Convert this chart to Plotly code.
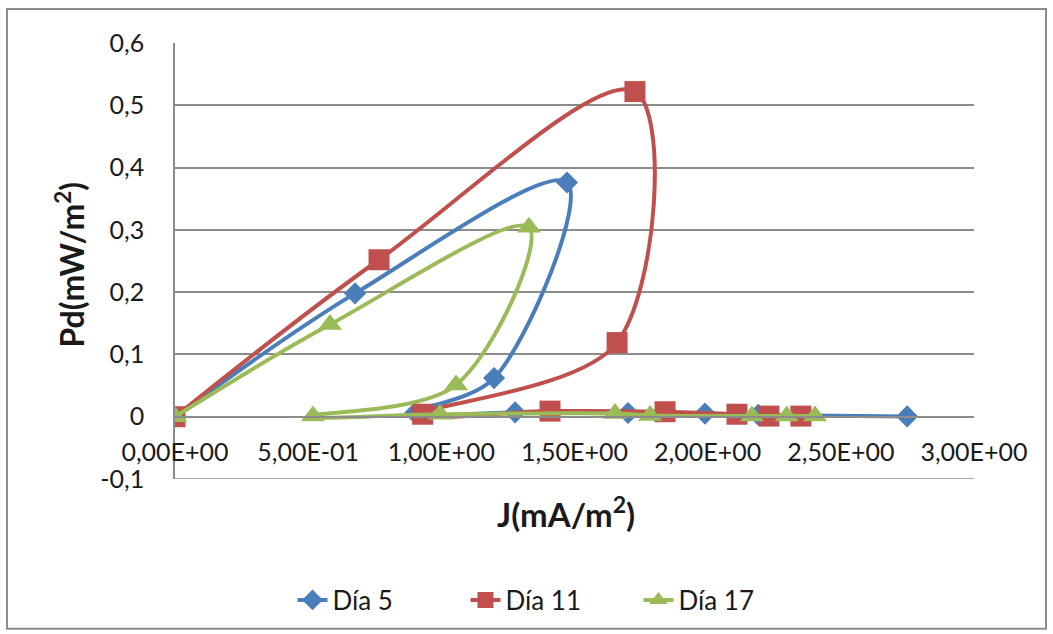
import plotly.graph_objects as go

# Current density J (mA/m²) and power density Pd (mW/m²) per sampling day
j_dia5 = [0.0, 0.676, 1.472, 1.198, 0.901, 1.277, 1.701, 1.990, 2.190, 2.749]
pd_dia5 = [0.0, 0.198, 0.376, 0.062, 0.006, 0.007, 0.006, 0.005, 0.003, 0.0005]

j_dia11 = [0.0, 0.766, 1.727, 1.660, 0.930, 1.408, 1.840, 2.110, 2.230, 2.350]
pd_dia11 = [0.0, 0.252, 0.522, 0.119, 0.004, 0.009, 0.008, 0.004, 0.001, 0.001]

j_dia17 = [0.0, 0.582, 1.329, 1.055, 0.518, 0.995, 1.652, 1.784, 2.166, 2.297, 2.403]
pd_dia17 = [0.0, 0.148, 0.304, 0.051, 0.001, 0.004, 0.005, 0.002, 0.001, 0.001, 0.001]

series_names = ["Día 5", "Día 11", "Día 17"]

x_tick_vals = [0.0, 0.5, 1.0, 1.5, 2.0, 2.5, 3.0]
x_tick_text = ["0,00E+00", "5,00E-01", "1,00E+00", "1,50E+00",
               "2,00E+00", "2,50E+00", "3,00E+00"]
y_tick_vals = [-0.1, 0.0, 0.1, 0.2, 0.3, 0.4, 0.5, 0.6]
y_tick_text = ["-0,1", "0", "0,1", "0,2", "0,3", "0,4", "0,5", "0,6"]

FONT = "Lato, 'Open Sans', sans-serif"
GRID = "#8c8c8c"
TEXT = "#1a1a1a"

# Plot-area geometry in pixels
W, H = 1053, 634
L, R, T, B = 175, 79, 43, 154
PW, PH = W - L - R, H - T - B


def px_x(p):
    return (p - L) / PW


def px_y(p):
    return (H - B - p) / PH


styles = [
    dict(color="#4A7EBB", symbol="diamond", size=17),
    dict(color="#C0504D", symbol="square", size=21),
    dict(color="#9BBB59", symbol="triangle-up", size=21),
]

fig = go.Figure()
for name, xs, ys, st in zip(series_names,
                            [j_dia5, j_dia11, j_dia17],
                            [pd_dia5, pd_dia11, pd_dia17],
                            styles):
    fig.add_trace(go.Scatter(
        x=xs, y=ys, name=name, mode="lines+markers",
        line=dict(color=st["color"], width=4, shape="spline", smoothing=1.0),
        marker=dict(color=st["color"], symbol=st["symbol"], size=st["size"],
                    line=dict(width=0)),
    ))

y_zero_frac = (0 - (-0.1)) / 0.7

fig.update_layout(
    width=W, height=H,
    margin=dict(l=L, r=R, t=T, b=B),
    paper_bgcolor="white", plot_bgcolor="white",
    font=dict(family=FONT, size=25, color=TEXT),
    showlegend=True,
    legend=dict(orientation="h", x=px_x(552), y=px_y(600),
                xanchor="center", yanchor="middle",
                font=dict(size=26, color=TEXT),
                entrywidth=128, entrywidthmode="pixels",
                bgcolor="rgba(0,0,0,0)"),
    xaxis=dict(
        range=[0, 3], tickvals=x_tick_vals, ticktext=x_tick_text,
        showgrid=False, zeroline=False,
        showline=True, linecolor=GRID, linewidth=1.5,
        anchor="free", position=y_zero_frac,
        ticks="", ticklabelstandoff=14,
        tickfont=dict(size=25),
    ),
    yaxis=dict(
        range=[-0.1, 0.6], tickvals=y_tick_vals, ticktext=y_tick_text,
        showgrid=True, gridcolor=GRID, gridwidth=1.5,
        zeroline=True, zerolinecolor=GRID, zerolinewidth=1.5,
        showline=True, linecolor=GRID, linewidth=1.5,
        ticks="", ticklabelstandoff=24,
        tickfont=dict(size=25),
    ),
    annotations=[
        dict(text="Pd(mW/m<sup>2</sup>)", xref="paper", yref="paper",
             x=px_x(70), y=px_y(265), textangle=-90, showarrow=False,
             xanchor="center", yanchor="middle",
             font=dict(family=FONT, size=32, color=TEXT, weight="bold")),
        dict(text="J(mA/m<sup>2</sup>)", xref="paper", yref="paper",
             x=px_x(566), y=px_y(513), showarrow=False,
             xanchor="center", yanchor="middle",
             font=dict(family=FONT, size=33, color=TEXT, weight="bold")),
    ],
    shapes=[
        # chart frame
        dict(type="rect", xref="paper", yref="paper",
             x0=px_x(7), x1=px_x(1046), y0=px_y(630), y1=px_y(9),
             line=dict(color="#8c8c8c", width=2), layer="below"),
        # bottom gridline at -0.1
        dict(type="line", xref="paper", yref="y", x0=0, x1=1, y0=-0.1, y1=-0.1,
             line=dict(color=GRID, width=1.5), layer="below"),
    ],
)

fig.write_html("out.html")
